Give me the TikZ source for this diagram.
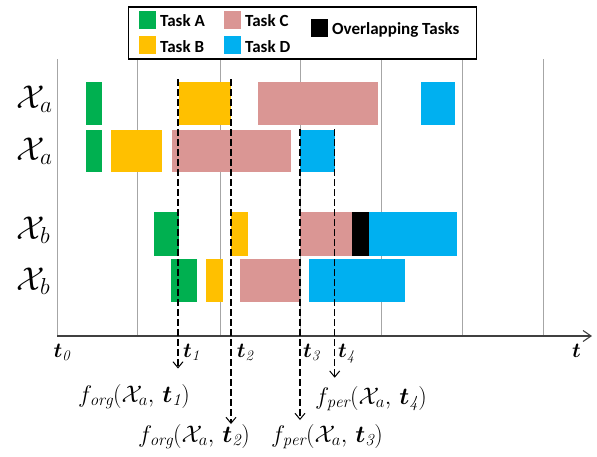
\RequirePackage{fix-cm}
\documentclass[tikz,border=0pt]{standalone}
\usepackage{amsmath}
\usepackage{bm}
\usepackage{fontspec}
\newfontfamily\legendfont{Carlito}
\usetikzlibrary{arrows.meta}

\definecolor{taskA}{HTML}{00B050}
\definecolor{taskB}{HTML}{FFC000}
\definecolor{taskC}{HTML}{DA9694}
\definecolor{taskD}{HTML}{00B0F0}
\definecolor{gridgray}{HTML}{A6A6A6}
\definecolor{axisgray}{HTML}{404040}

% task bar: colour, start, end, top, bottom
\newcommand\taskbar[5]{\fill[#1] (#2,#4) rectangle (#3,#5);}

\begin{document}
\begin{tikzpicture}[x=1pt,y=-1pt,
  gridline/.style={draw=gridgray, line width=0.9pt},
  guide/.style={line width=1.1pt, dash pattern=on 7pt off 3pt},
  guidearrow/.style={guide, -{Straight Barb[length=6pt,width=10pt,line width=1pt]}},
  legendtext/.style={anchor=base west, inner sep=0pt, font=\legendfont\bfseries\fontsize{17}{20}\selectfont},
  ticklabel/.style={anchor=base west, inner sep=0pt, font=\fontsize{21}{24}\selectfont},
  funclabel/.style={anchor=base west, inner sep=0pt, font=\fontsize{24}{28}\selectfont},
  rowlabel/.style={anchor=base west, inner sep=0pt, font=\fontsize{33}{36}\selectfont},
]
\useasboundingbox (0,0) rectangle (597,456);

% row extents
\def\rAt{82.3}\def\rAb{124.7}
\def\rBt{130}\def\rBb{172}
\def\rCt{212.3}\def\rCb{255.7}
\def\rDt{258.7}\def\rDb{302}

% grid
\foreach \gx in {137.7,220,300,381,462.3,543.3}
  \draw[gridline] (\gx,59) -- (\gx,336);
\draw[gridline] (57.3,59) -- (57.3,336);

% legend
\node[draw=black, line width=1.2pt, minimum width=348pt, minimum height=52pt, inner sep=0pt] (legend) at (302.3,32.9) {};
\fill[taskA] (138.5,11) rectangle (156.1,29);
\fill[taskB] (138.5,36.3) rectangle (156.1,54.3);
\fill[taskC] (223.9,11) rectangle (241.1,29);
\fill[taskD] (223.9,36.3) rectangle (241.1,54.3);
\fill[black] (310.8,19) rectangle (328,36.5);
\node[legendtext] (legA) at (160,26.5) {Task A};
\node[legendtext] (legB) at (160,52) {Task B};
\node[legendtext] (legC) at (245,26.5) {Task C};
\node[legendtext] (legD) at (245,52) {Task D};
\node[legendtext] (legO) at (332,34) {Overlapping Tasks};

% row 1
\taskbar{taskA}{85.7}{102.3}{\rAt}{\rAb}
\taskbar{taskB}{179.3}{231}{\rAt}{\rAb}
\taskbar{taskC}{257.7}{378}{\rAt}{\rAb}
\taskbar{taskD}{420.7}{454.7}{\rAt}{\rAb}
% row 2
\taskbar{taskA}{85.7}{102.3}{\rBt}{\rBb}
\taskbar{taskB}{110.7}{162.3}{\rBt}{\rBb}
\taskbar{taskC}{171.7}{291.3}{\rBt}{\rBb}
\taskbar{taskD}{300}{334.7}{\rBt}{\rBb}
% row 3
\taskbar{taskA}{154.3}{179.3}{\rCt}{\rCb}
\taskbar{taskB}{230.5}{248.3}{\rCt}{\rCb}
\taskbar{taskC}{300}{352.3}{\rCt}{\rCb}
\taskbar{black}{352.3}{369}{\rCt}{\rCb}
\taskbar{taskD}{369}{456.7}{\rCt}{\rCb}
% row 4
\taskbar{taskA}{171.3}{196.7}{\rDt}{\rDb}
\taskbar{taskB}{205.7}{223}{\rDt}{\rDb}
\taskbar{taskC}{240.3}{300}{\rDt}{\rDb}
\taskbar{taskD}{309.3}{405}{\rDt}{\rDb}

% row labels
\node[rowlabel] (xa1) at (16.5,108) {$\mathcal{X}_a$};
\node[rowlabel] (xa2) at (16.5,160) {$\mathcal{X}_a$};
\node[rowlabel] (xb1) at (16.5,239) {$\mathcal{X}_b$};
\node[rowlabel] (xb2) at (16.5,290) {$\mathcal{X}_b$};

% time axis
\coordinate (origin) at (57.3,336);
\coordinate (tend) at (592,336);
\draw[axisgray, line width=1.3pt, -{Straight Barb[length=8pt,width=11pt,line width=1.1pt]}] (origin) -- (tend);

\node[ticklabel] (t0) at (53.5,357) {$\bm{t}_{\mathit{0}}$};
\node[ticklabel] (t1) at (183,357) {$\bm{t}_{\mathit{1}}$};
\node[ticklabel] (t2) at (236.7,357) {$\bm{t}_{\mathit{2}}$};
\node[ticklabel] (t3) at (303,357) {$\bm{t}_{\mathit{3}}$};
\node[ticklabel] (t4) at (338,357) {$\bm{t}_{\mathit{4}}$};
\node[ticklabel] (tt) at (572,357) {$\bm{t}$};

% evaluated functions
\node[funclabel] (f1) at (78,402) {$f_{\mathit{org}}(\mathcal{X}_a,\,\bm{t}_{\mathit{1}})$};
\node[funclabel] (f2) at (138,442) {$f_{\mathit{org}}(\mathcal{X}_a,\,\bm{t}_{\mathit{2}})$};
\node[funclabel] (f3) at (271,442) {$f_{\mathit{per}}(\mathcal{X}_a,\,\bm{t}_{\mathit{3}})$};
\node[funclabel] (f4) at (315,404) {$f_{\mathit{per}}(\mathcal{X}_a,\,\bm{t}_{\mathit{4}})$};

% dashed guides down to the evaluations
\coordinate (g1top) at (178,79);
\coordinate (g1tip) at (178,368.5);
\coordinate (g2top) at (231,79);
\coordinate (g2tip) at (231,424);
\coordinate (g3top) at (300,129);
\coordinate (g3tip) at (300,420);
\coordinate (g4top) at (334.7,129);
\coordinate (g4tip) at (334.7,377.7);
\draw[guidearrow] (g1top) -- (g1tip);
\draw[guidearrow] (g2top) -- (g2tip);
\draw[guidearrow] (g3top) -- (g3tip);
\draw[guidearrow] (g4top) -- (g4tip);
\end{tikzpicture}
\end{document}
